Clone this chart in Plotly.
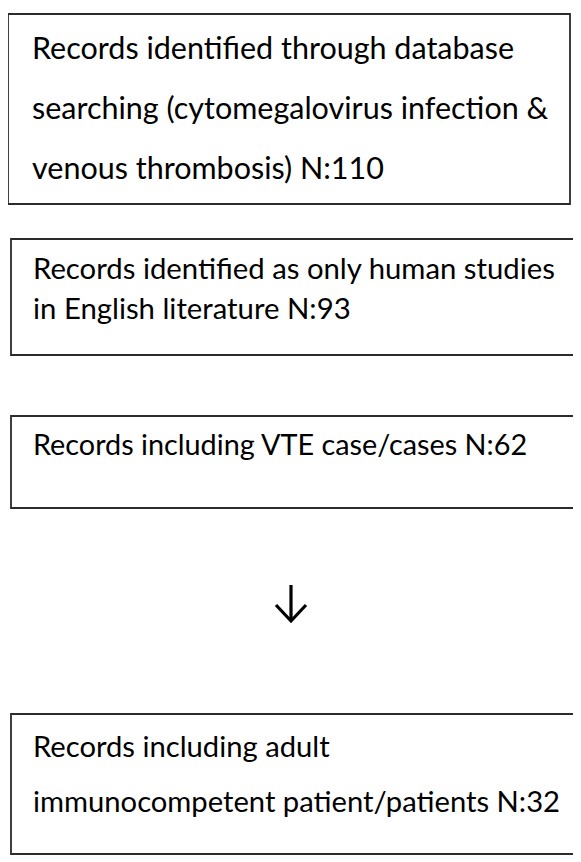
import plotly.graph_objects as go

# ---- data ----
box_lines = [
    ["Records identified through database",
     "searching (cytomegalovirus infection &",
     "venous thrombosis) N:110"],
    ["Records identified as only human studies",
     "in English literature N:93"],
    ["Records including VTE case/cases N:62"],
    ["Records including adult",
     "immunocompetent patient/patients N:32"],
]
counts = [110, 93, 62, 32]

# ---- layout (reference pixel geometry) ----
W, H = 581, 862
OFF = 8  # page body margin
boxes = [  # x0, x1, y0, y1
    (8, 570, 14, 204),
    (11, 577, 239, 355),
    (11, 600, 416, 508),
    (11, 600, 714, 854),
]
line_y = [
    [47, 107, 167],
    [267, 307],
    [444],
    [745, 800],
]
font_sizes = [30.5, 29.3, 28.8, 29.2]
text_x = [30, 31, 31, 31]

fig = go.Figure()
shapes = []
annotations = []
for i, (x0, x1, y0, y1) in enumerate(boxes):
    shapes.append(dict(type="rect", x0=x0, x1=x1, y0=y0, y1=y1,
                       xref="x", yref="y",
                       line=dict(color="#2b2b2b", width=1.8),
                       fillcolor="rgba(0,0,0,0)"))
    for ln, yy in zip(box_lines[i], line_y[i]):
        annotations.append(dict(x=text_x[i], y=yy, xref="x", yref="y",
                                text=ln, showarrow=False,
                                xanchor="left", yanchor="middle",
                                font=dict(family="Lato", size=font_sizes[i],
                                          color="#000000")))

# arrow between box 3 and box 4
ax, ay0, ay1 = 291, 585, 621
shapes.append(dict(type="line", x0=ax, x1=ax, y0=ay0, y1=ay1,
                   xref="x", yref="y", line=dict(color="#000", width=3.2)))
shapes.append(dict(type="path", path=f"M {ax-15},{ay1-16} L {ax},{ay1} L {ax+15},{ay1-16}",
                   xref="x", yref="y", line=dict(color="#000", width=3.2)))

fig.update_layout(
    width=W - OFF, height=H - OFF,
    margin=dict(l=0, r=0, t=0, b=0),
    paper_bgcolor="white", plot_bgcolor="white",
    xaxis=dict(range=[OFF, W], visible=False, fixedrange=True),
    yaxis=dict(range=[H, OFF], visible=False, fixedrange=True),
    shapes=shapes, annotations=annotations,
    showlegend=False,
)
fig.write_html("out.html")
